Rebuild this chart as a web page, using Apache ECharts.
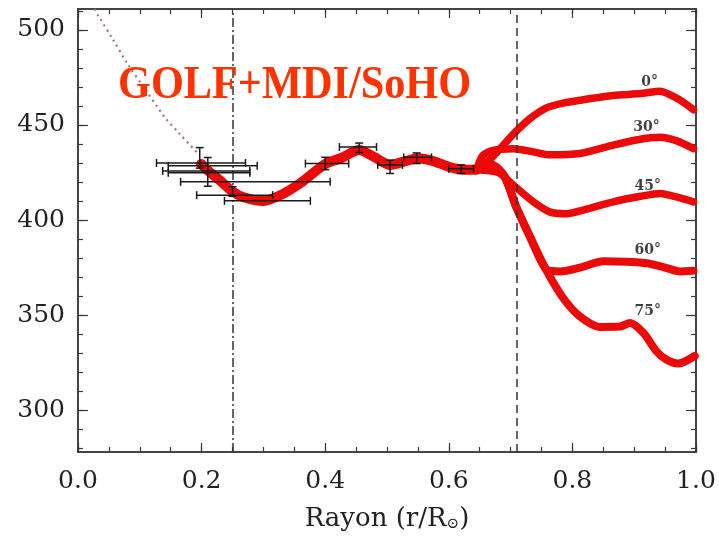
<!DOCTYPE html>
<html>
<head>
<meta charset="utf-8">
<title>GOLF+MDI/SoHO</title>
<script src="https://cdn.jsdelivr.net/npm/echarts@6/dist/echarts.min.js"></script>
<style>
  html, body { margin: 0; padding: 0; background: #fff; }
  #chart { width: 719px; height: 537px; }
</style>
</head>
<body>
<div id="chart"></div>
<script>
// profil commun (r < 0.65)
const trunk = [[0.199,429.5],[0.212,425.5],[0.229,421],[0.25,415],[0.268,412],[0.30,410],[0.33,413.5],
  [0.36,419.5],[0.40,429.5],[0.425,432.5],[0.455,436.8],[0.48,433],[0.505,429],[0.53,431],[0.55,432.5],
  [0.575,431],[0.60,428],[0.625,426.5],[0.645,426.5]];

// branches en latitude
const lat0 = [[0.645,426.5],[0.67,433],[0.704,445],[0.73,453],[0.758,459],[0.785,461.5],[0.812,463],
  [0.866,465.5],[0.91,466.5],[0.942,467.8],[0.972,463.5],[0.996,458]];
const lat30 = [[0.645,426.5],[0.655,434],[0.67,436.5],[0.704,437.5],[0.735,436],[0.763,434.3],[0.812,435],
  [0.866,439.4],[0.91,442.5],[0.942,443.5],[0.97,441.5],[0.996,437.6]];
const lat45 = [[0.645,426.5],[0.68,425],[0.704,418.5],[0.735,410],[0.763,404.3],[0.79,403.3],[0.82,405.5],
  [0.866,409.6],[0.91,412.5],[0.942,414],[0.97,412],[0.996,409.6]];
const lat60 = [[0.645,426.5],[0.67,429],[0.69,423],[0.709,407],[0.731,391.5],[0.758,374],[0.78,373],
  [0.812,375],[0.85,378.3],[0.92,377.3],[0.95,375],[0.974,373],[0.996,373.3]];
const lat75 = [[0.645,426.5],[0.67,429],[0.69,423],[0.709,407],[0.731,391.5],[0.758,373.5],[0.785,359],
  [0.812,349.3],[0.844,343.8],[0.877,344],[0.893,345.8],[0.915,340.6],[0.936,331],[0.952,326.6],
  [0.971,324.5],[0.998,328.5]];

// coeur : extrapolation en pointillés
const coreDots = [[0.027,511],[0.031,508.4],[0.056,495.3],[0.080,482.2],[0.110,468.2],[0.140,454.2],
  [0.164,445.5],[0.194,435]];

// barres d'erreur : horizontales [y, r1, r2], verticales [r, y1, y2]
const hBars = [[430.0,0.127,0.271],[428.6,0.146,0.290],[425.8,0.137,0.278],[424.9,0.146,0.278],
  [420.1,0.166,0.408],[413.1,0.192,0.315],[410.1,0.237,0.376],[429.7,0.368,0.438],[438.4,0.423,0.483],
  [429.0,0.485,0.525],[433.0,0.527,0.572],[427.0,0.60,0.64]];
const vBars = [[0.197,427.3,438.1],[0.21,417.8,432.9],[0.25,412.5,417.5],[0.40,426.5,433],
  [0.455,435.5,440.5],[0.505,424.5,431.5],[0.548,429.7,435.3],[0.62,424.5,429]];

// limites : coeur radiatif et base de la zone convective
const boundaries = [0.25, 0.707];

const latNames = ['0°', '30°', '45°', '60°', '75°'];
const latLabelR = [0.925, 0.92, 0.922, 0.922, 0.922];
const latLabelY = [472.4, 448.8, 417.8, 384.3, 351.9];

const xLabels = [0, 0.2, 0.4, 0.6, 0.8, 1.0];
const xMinor = [0,0.05,0.1,0.15,0.2,0.25,0.3,0.35,0.4,0.45,0.5,0.55,0.6,0.65,0.7,0.75,0.8,0.85,0.9,0.95,1.0];
const yLabels = [300, 350, 400, 450, 500];
const yMinor = [280,290,300,310,320,330,340,350,360,370,380,390,400,410,420,430,440,450,460,470,480,490,500,510];

const chart = echarts.init(document.getElementById('chart'));
const RED = '#ea0a0a';
const FRAME = '#3a3a3a';
const SERIF = '"DejaVu Serif", "Liberation Serif", serif';

function xAx(pos, ticks, len, showLabel) {
  return {
    type: 'value', position: pos, min: 0, max: 1,
    axisLine: { show: true, onZero: false, lineStyle: { color: FRAME, width: 1.5 } },
    axisTick: { show: true, inside: true, length: len, customValues: ticks, lineStyle: { color: FRAME, width: 1.2 } },
    axisLabel: showLabel ? {
      show: true, customValues: xLabels, margin: 17,
      formatter: v => v.toFixed(1), fontFamily: SERIF, fontSize: 25, color: '#222'
    } : { show: false },
    splitLine: { show: false }
  };
}
function yAx(pos, ticks, len, showLabel) {
  return {
    type: 'value', position: pos, min: 278, max: 511,
    axisLine: { show: true, onZero: false, lineStyle: { color: FRAME, width: 1.5 } },
    axisTick: { show: true, inside: true, length: len, customValues: ticks, lineStyle: { color: FRAME, width: 1.2 } },
    axisLabel: showLabel ? {
      show: true, customValues: yLabels, margin: 13,
      fontFamily: SERIF, fontSize: 25, color: '#222'
    } : { show: false },
    splitLine: { show: false }
  };
}

const xMain = xAx('bottom', xLabels, 9, true);
xMain.name = 'Rayon (r/R{s|⊙})';
xMain.nameLocation = 'middle';
xMain.nameGap = 54;
xMain.nameTextStyle = {
  fontFamily: SERIF, fontSize: 26, color: '#222',
  rich: { s: { fontFamily: SERIF, fontSize: 15, color: '#222', verticalAlign: 'bottom', padding: [10, 0, 0, 0] } }
};

function barStyle() { return { stroke: '#1a1a1a', lineWidth: 1.5 }; }
function hBarItem(params, api) {
  const y = api.value(0);
  const a = api.coord([api.value(1), y]);
  const b = api.coord([api.value(2), y]);
  const c = 4;
  return { type: 'group', children: [
    { type: 'line', shape: { x1: a[0], y1: a[1], x2: b[0], y2: b[1] }, style: barStyle() },
    { type: 'line', shape: { x1: a[0], y1: a[1] - c, x2: a[0], y2: a[1] + c }, style: barStyle() },
    { type: 'line', shape: { x1: b[0], y1: b[1] - c, x2: b[0], y2: b[1] + c }, style: barStyle() }
  ]};
}
function vBarItem(params, api) {
  const x = api.value(0);
  const a = api.coord([x, api.value(1)]);
  const b = api.coord([x, api.value(2)]);
  const c = 4;
  return { type: 'group', children: [
    { type: 'line', shape: { x1: a[0], y1: a[1], x2: b[0], y2: b[1] }, style: barStyle() },
    { type: 'line', shape: { x1: a[0] - c, y1: a[1], x2: a[0] + c, y2: a[1] }, style: barStyle() },
    { type: 'line', shape: { x1: b[0] - c, y1: b[1], x2: b[0] + c, y2: b[1] }, style: barStyle() }
  ]};
}

function redLine(data, w) {
  return {
    type: 'line', data: data, smooth: 0.25, symbol: 'none', z: 3,
    lineStyle: { color: RED, width: w, cap: 'round', join: 'round' }
  };
}

chart.setOption({
  animation: false,
  grid: { left: 78, right: 23, top: 9, bottom: 85 },
  xAxis: [xMain, xAx('bottom', xMinor, 5, false), xAx('top', xLabels, 9, false), xAx('top', xMinor, 5, false)],
  yAxis: [yAx('left', yLabels, 10, true), yAx('left', yMinor, 5, false), yAx('right', yLabels, 10, false), yAx('right', yMinor, 5, false)],
  graphic: [{
    type: 'text', x: 118, y: 109, scaleX: 0.9,
    style: {
      text: 'GOLF+MDI/SoHO', fill: '#ff3300', fontFamily: '"Liberation Serif", "DejaVu Serif", serif',
      fontWeight: 'bold', fontSize: 47, verticalAlign: 'bottom'
    }, z: 10
  }],
  series: [
    {
      type: 'line', data: coreDots, smooth: 0.3, symbol: 'none', z: 2,
      lineStyle: { color: '#b07070', width: 2.2, type: [2, 4] },
      markLine: {
        silent: true, symbol: 'none', label: { show: false },
        data: [
          { xAxis: boundaries[0], lineStyle: { color: '#333', width: 1.5, type: [9, 3, 2, 3] } },
          { xAxis: boundaries[1], lineStyle: { color: '#333', width: 1.5, type: [8, 5] } }
        ]
      }
    },
    redLine(trunk, 10),
    redLine(lat0, 7.5),
    redLine(lat30, 7.5),
    redLine(lat45, 7.5),
    redLine(lat60, 8),
    redLine(lat75, 8),
    { type: 'custom', renderItem: hBarItem, data: hBars, z: 5, encode: { x: [1, 2], y: 0 } },
    { type: 'custom', renderItem: vBarItem, data: vBars, z: 5, encode: { x: 0, y: [1, 2] } },
    {
      type: 'scatter', symbolSize: 0, z: 6,
      data: latNames.map((n, i) => ({ name: n, value: [latLabelR[i], latLabelY[i]] })),
      label: {
        show: true, position: 'inside', formatter: p => p.name,
        fontFamily: SERIF, fontWeight: 'bold', fontSize: 14, color: '#111'
      }
    }
  ]
});
</script>
</body>
</html>
